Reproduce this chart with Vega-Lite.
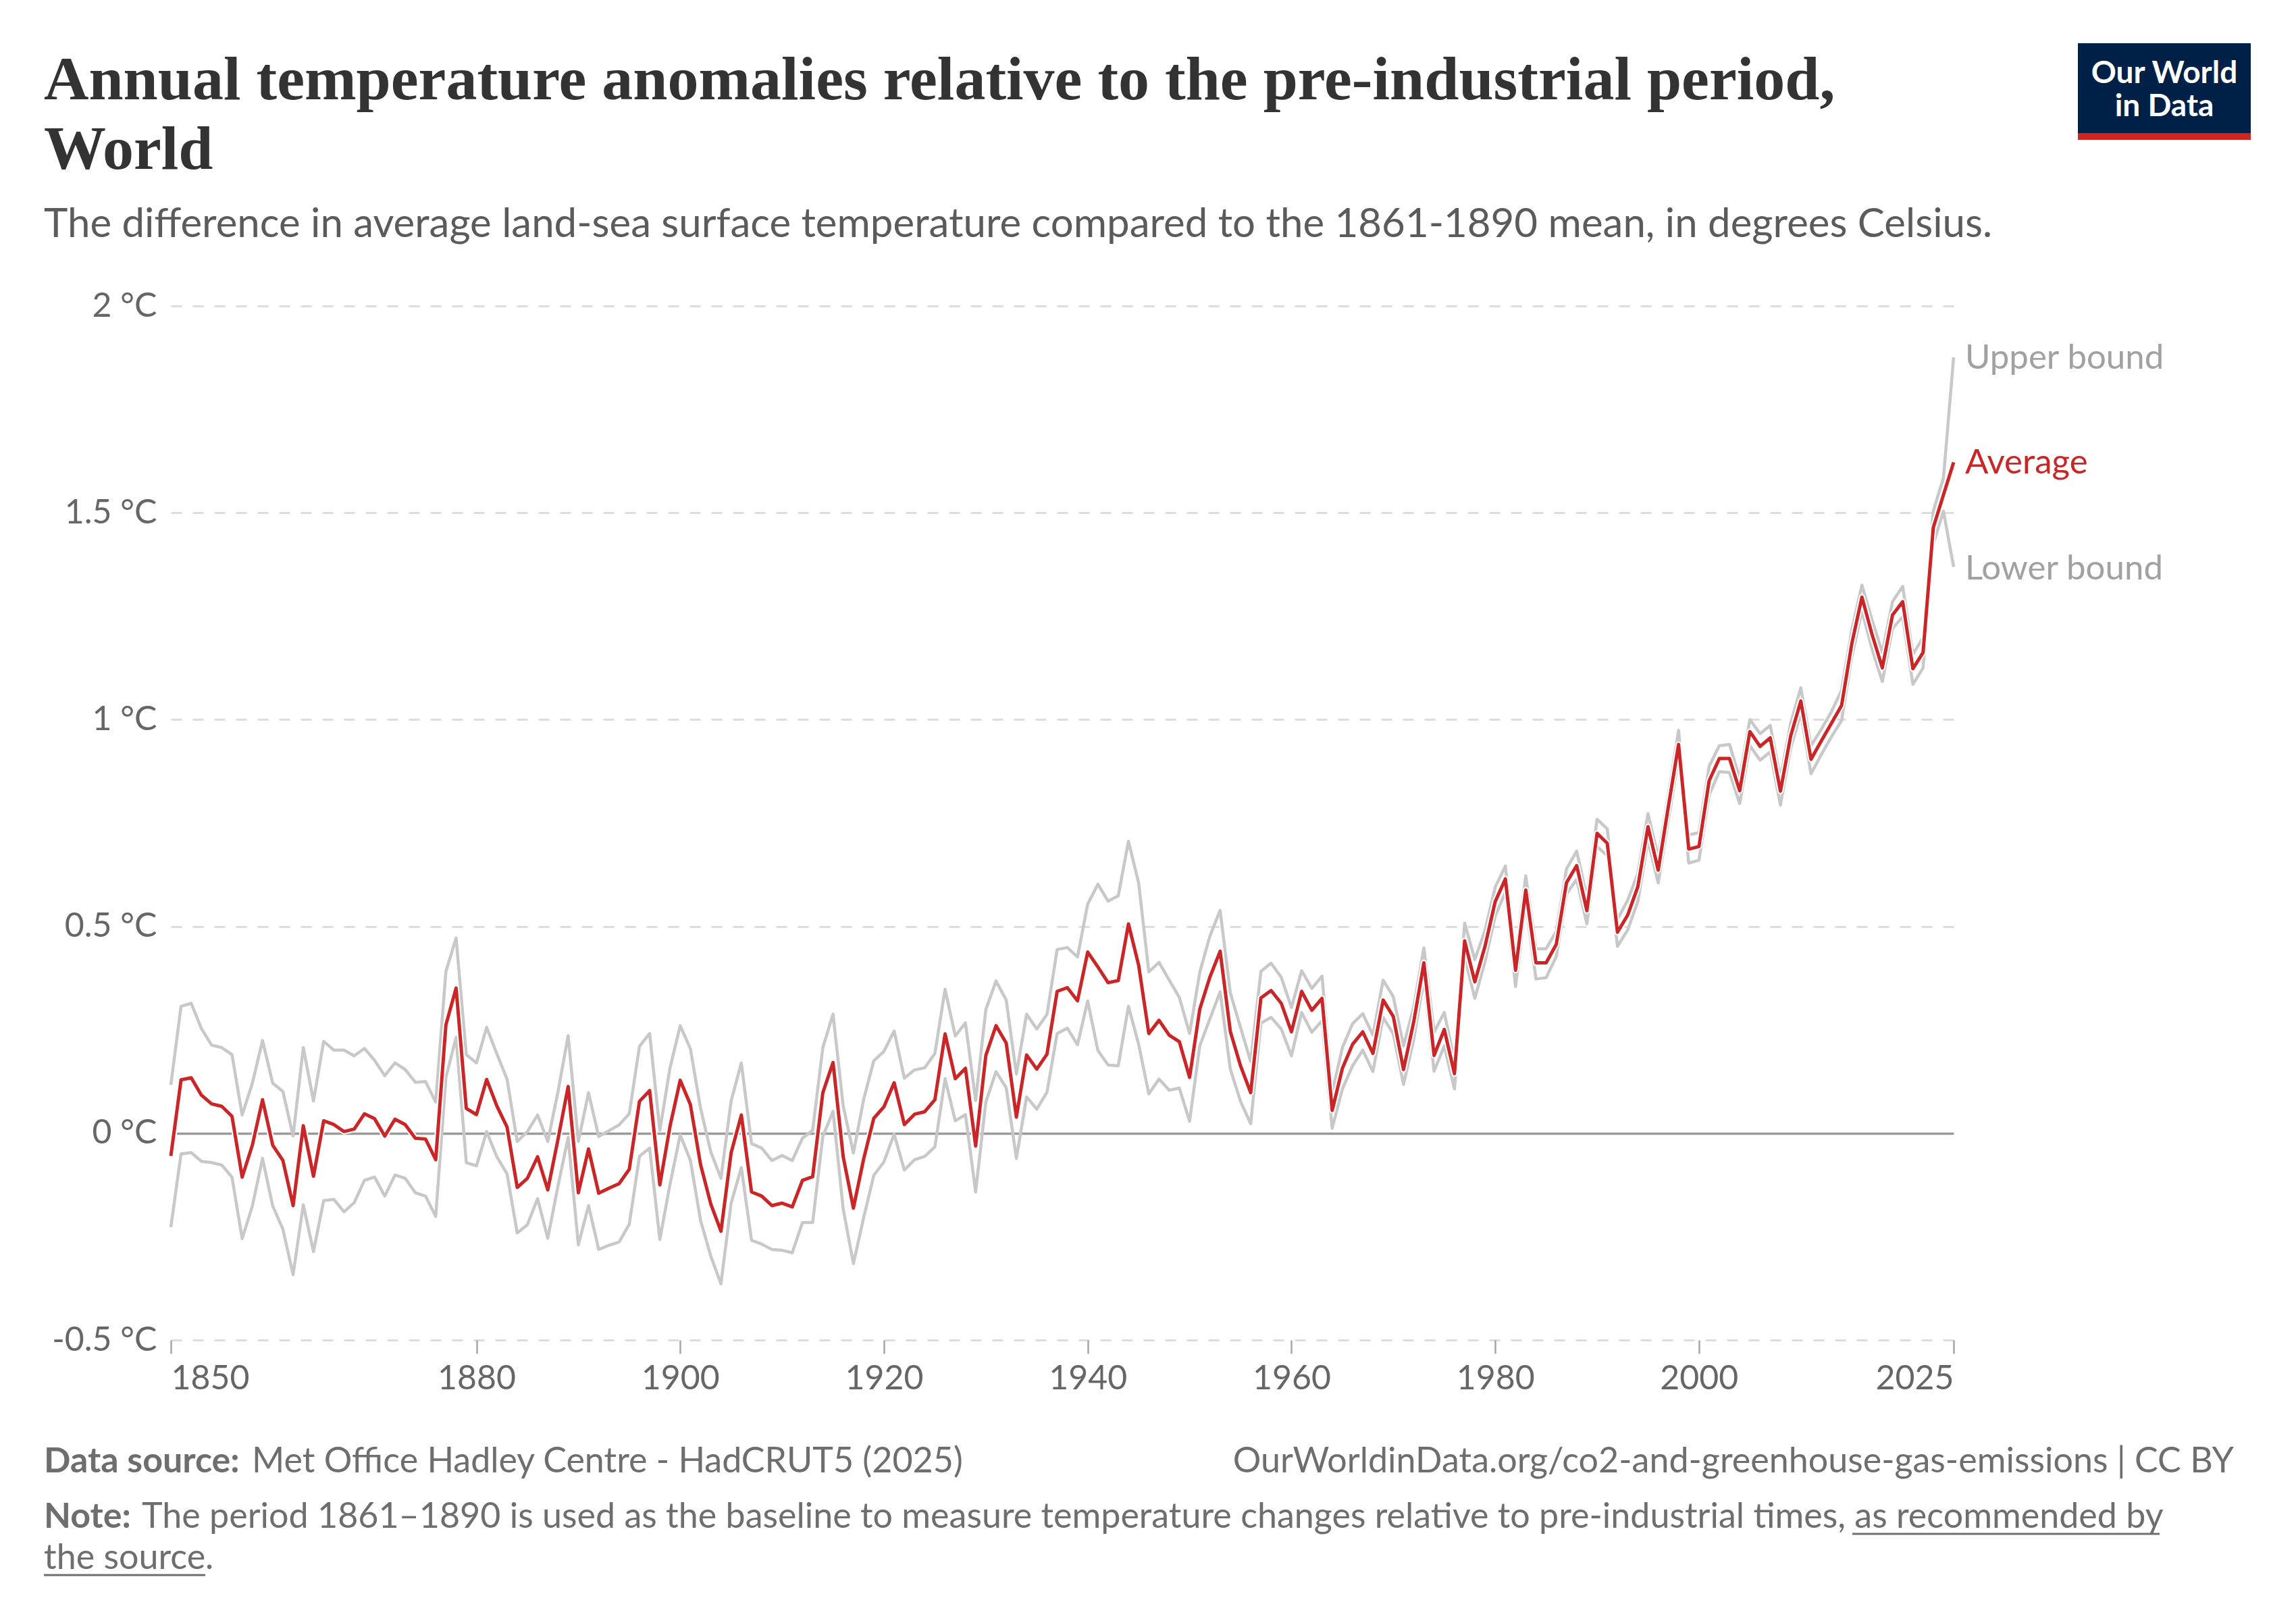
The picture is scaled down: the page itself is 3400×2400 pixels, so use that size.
{
  "$schema": "https://vega.github.io/schema/vega-lite/v6.json",
  "width": 2640,
  "height": 1531,
  "autosize": {"type": "none"},
  "padding": {"left": 253, "top": 453, "right": 507, "bottom": 416},
  "background": "#ffffff",
  "config": {"view": {"stroke": null}, "font": "Lato"},
  "data": {"values": [
    {"year":1850,"upper":0.117,"avg":-0.055,"lower":-0.227},
    {"year":1851,"upper":0.307,"avg":0.129,"lower":-0.050},
    {"year":1852,"upper":0.314,"avg":0.134,"lower":-0.047},
    {"year":1853,"upper":0.253,"avg":0.092,"lower":-0.068},
    {"year":1854,"upper":0.213,"avg":0.071,"lower":-0.071},
    {"year":1855,"upper":0.207,"avg":0.065,"lower":-0.077},
    {"year":1856,"upper":0.190,"avg":0.041,"lower":-0.106},
    {"year":1857,"upper":0.044,"avg":-0.106,"lower":-0.255},
    {"year":1858,"upper":0.121,"avg":-0.029,"lower":-0.176},
    {"year":1859,"upper":0.224,"avg":0.081,"lower":-0.061},
    {"year":1860,"upper":0.121,"avg":-0.029,"lower":-0.176},
    {"year":1861,"upper":0.101,"avg":-0.066,"lower":-0.232},
    {"year":1862,"upper":-0.007,"avg":-0.175,"lower":-0.342},
    {"year":1863,"upper":0.207,"avg":0.018,"lower":-0.173},
    {"year":1864,"upper":0.078,"avg":-0.104,"lower":-0.286},
    {"year":1865,"upper":0.222,"avg":0.030,"lower":-0.163},
    {"year":1866,"upper":0.201,"avg":0.021,"lower":-0.160},
    {"year":1867,"upper":0.201,"avg":0.004,"lower":-0.190},
    {"year":1868,"upper":0.187,"avg":0.010,"lower":-0.168},
    {"year":1869,"upper":0.205,"avg":0.047,"lower":-0.114},
    {"year":1870,"upper":0.176,"avg":0.035,"lower":-0.106},
    {"year":1871,"upper":0.139,"avg":-0.007,"lower":-0.152},
    {"year":1872,"upper":0.170,"avg":0.034,"lower":-0.101},
    {"year":1873,"upper":0.154,"avg":0.021,"lower":-0.109},
    {"year":1874,"upper":0.123,"avg":-0.012,"lower":-0.144},
    {"year":1875,"upper":0.125,"avg":-0.014,"lower":-0.152},
    {"year":1876,"upper":0.075,"avg":-0.064,"lower":-0.201},
    {"year":1877,"upper":0.391,"avg":0.262,"lower":0.135},
    {"year":1878,"upper":0.472,"avg":0.351,"lower":0.232},
    {"year":1879,"upper":0.190,"avg":0.060,"lower":-0.071},
    {"year":1880,"upper":0.170,"avg":0.045,"lower":-0.079},
    {"year":1881,"upper":0.256,"avg":0.130,"lower":0.004},
    {"year":1882,"upper":0.192,"avg":0.066,"lower":-0.057},
    {"year":1883,"upper":0.131,"avg":0.015,"lower":-0.098},
    {"year":1884,"upper":-0.020,"avg":-0.131,"lower":-0.241},
    {"year":1885,"upper":0.004,"avg":-0.109,"lower":-0.221},
    {"year":1886,"upper":0.044,"avg":-0.057,"lower":-0.158},
    {"year":1887,"upper":-0.020,"avg":-0.137,"lower":-0.254},
    {"year":1888,"upper":0.100,"avg":-0.015,"lower":-0.128},
    {"year":1889,"upper":0.236,"avg":0.113,"lower":-0.010},
    {"year":1890,"upper":-0.020,"avg":-0.144,"lower":-0.270},
    {"year":1891,"upper":0.098,"avg":-0.038,"lower":-0.175},
    {"year":1892,"upper":-0.008,"avg":-0.145,"lower":-0.281},
    {"year":1893,"upper":0.006,"avg":-0.133,"lower":-0.271},
    {"year":1894,"upper":0.020,"avg":-0.122,"lower":-0.263},
    {"year":1895,"upper":0.047,"avg":-0.087,"lower":-0.220},
    {"year":1896,"upper":0.210,"avg":0.077,"lower":-0.056},
    {"year":1897,"upper":0.241,"avg":0.103,"lower":-0.036},
    {"year":1898,"upper":0.007,"avg":-0.125,"lower":-0.257},
    {"year":1899,"upper":0.158,"avg":0.017,"lower":-0.123},
    {"year":1900,"upper":0.260,"avg":0.128,"lower":-0.004},
    {"year":1901,"upper":0.204,"avg":0.069,"lower":-0.066},
    {"year":1902,"upper":0.060,"avg":-0.076,"lower":-0.211},
    {"year":1903,"upper":-0.045,"avg":-0.171,"lower":-0.297},
    {"year":1904,"upper":-0.109,"avg":-0.237,"lower":-0.364},
    {"year":1905,"upper":0.078,"avg":-0.047,"lower":-0.169},
    {"year":1906,"upper":0.170,"avg":0.044,"lower":-0.083},
    {"year":1907,"upper":-0.025,"avg":-0.142,"lower":-0.259},
    {"year":1908,"upper":-0.036,"avg":-0.152,"lower":-0.268},
    {"year":1909,"upper":-0.066,"avg":-0.175,"lower":-0.281},
    {"year":1910,"upper":-0.054,"avg":-0.169,"lower":-0.283},
    {"year":1911,"upper":-0.066,"avg":-0.178,"lower":-0.289},
    {"year":1912,"upper":-0.012,"avg":-0.114,"lower":-0.216},
    {"year":1913,"upper":0.007,"avg":-0.105,"lower":-0.216},
    {"year":1914,"upper":0.207,"avg":0.098,"lower":-0.008},
    {"year":1915,"upper":0.288,"avg":0.171,"lower":0.053},
    {"year":1916,"upper":0.066,"avg":-0.057,"lower":-0.183},
    {"year":1917,"upper":-0.048,"avg":-0.181,"lower":-0.315},
    {"year":1918,"upper":0.081,"avg":-0.063,"lower":-0.205},
    {"year":1919,"upper":0.175,"avg":0.036,"lower":-0.102},
    {"year":1920,"upper":0.198,"avg":0.064,"lower":-0.069},
    {"year":1921,"upper":0.247,"avg":0.122,"lower":-0.002},
    {"year":1922,"upper":0.133,"avg":0.021,"lower":-0.089},
    {"year":1923,"upper":0.153,"avg":0.046,"lower":-0.064},
    {"year":1924,"upper":0.158,"avg":0.052,"lower":-0.056},
    {"year":1925,"upper":0.193,"avg":0.081,"lower":-0.033},
    {"year":1926,"upper":0.348,"avg":0.240,"lower":0.132},
    {"year":1927,"upper":0.235,"avg":0.132,"lower":0.030},
    {"year":1928,"upper":0.267,"avg":0.157,"lower":0.045},
    {"year":1929,"upper":0.079,"avg":-0.031,"lower":-0.142},
    {"year":1930,"upper":0.299,"avg":0.188,"lower":0.075},
    {"year":1931,"upper":0.368,"avg":0.260,"lower":0.149},
    {"year":1932,"upper":0.322,"avg":0.218,"lower":0.110},
    {"year":1933,"upper":0.143,"avg":0.039,"lower":-0.061},
    {"year":1934,"upper":0.288,"avg":0.189,"lower":0.088},
    {"year":1935,"upper":0.252,"avg":0.155,"lower":0.058},
    {"year":1936,"upper":0.287,"avg":0.191,"lower":0.099},
    {"year":1937,"upper":0.444,"avg":0.343,"lower":0.241},
    {"year":1938,"upper":0.449,"avg":0.352,"lower":0.254},
    {"year":1939,"upper":0.426,"avg":0.320,"lower":0.214},
    {"year":1940,"upper":0.554,"avg":0.438,"lower":0.320},
    {"year":1941,"upper":0.602,"avg":0.402,"lower":0.200},
    {"year":1942,"upper":0.561,"avg":0.364,"lower":0.165},
    {"year":1943,"upper":0.574,"avg":0.369,"lower":0.163},
    {"year":1944,"upper":0.706,"avg":0.506,"lower":0.307},
    {"year":1945,"upper":0.605,"avg":0.406,"lower":0.215},
    {"year":1946,"upper":0.390,"avg":0.241,"lower":0.095},
    {"year":1947,"upper":0.413,"avg":0.273,"lower":0.131},
    {"year":1948,"upper":0.370,"avg":0.237,"lower":0.104},
    {"year":1949,"upper":0.328,"avg":0.221,"lower":0.109},
    {"year":1950,"upper":0.241,"avg":0.135,"lower":0.029},
    {"year":1951,"upper":0.389,"avg":0.300,"lower":0.211},
    {"year":1952,"upper":0.477,"avg":0.378,"lower":0.277},
    {"year":1953,"upper":0.539,"avg":0.440,"lower":0.342},
    {"year":1954,"upper":0.339,"avg":0.246,"lower":0.155},
    {"year":1955,"upper":0.256,"avg":0.163,"lower":0.077},
    {"year":1956,"upper":0.173,"avg":0.098,"lower":0.023},
    {"year":1957,"upper":0.391,"avg":0.327,"lower":0.266},
    {"year":1958,"upper":0.411,"avg":0.345,"lower":0.280},
    {"year":1959,"upper":0.377,"avg":0.314,"lower":0.252},
    {"year":1960,"upper":0.304,"avg":0.245,"lower":0.187},
    {"year":1961,"upper":0.393,"avg":0.343,"lower":0.292},
    {"year":1962,"upper":0.350,"avg":0.297,"lower":0.244},
    {"year":1963,"upper":0.380,"avg":0.326,"lower":0.272},
    {"year":1964,"upper":0.098,"avg":0.055,"lower":0.012},
    {"year":1965,"upper":0.207,"avg":0.157,"lower":0.107},
    {"year":1966,"upper":0.265,"avg":0.215,"lower":0.163},
    {"year":1967,"upper":0.289,"avg":0.245,"lower":0.201},
    {"year":1968,"upper":0.237,"avg":0.193,"lower":0.149},
    {"year":1969,"upper":0.370,"avg":0.322,"lower":0.280},
    {"year":1970,"upper":0.330,"avg":0.282,"lower":0.240},
    {"year":1971,"upper":0.211,"avg":0.154,"lower":0.118},
    {"year":1972,"upper":0.305,"avg":0.269,"lower":0.226},
    {"year":1973,"upper":0.448,"avg":0.412,"lower":0.373},
    {"year":1974,"upper":0.244,"avg":0.188,"lower":0.150},
    {"year":1975,"upper":0.292,"avg":0.251,"lower":0.211},
    {"year":1976,"upper":0.175,"avg":0.144,"lower":0.107},
    {"year":1977,"upper":0.508,"avg":0.465,"lower":0.427},
    {"year":1978,"upper":0.420,"avg":0.366,"lower":0.326},
    {"year":1979,"upper":0.490,"avg":0.452,"lower":0.415},
    {"year":1980,"upper":0.595,"avg":0.560,"lower":0.525},
    {"year":1981,"upper":0.646,"avg":0.615,"lower":0.583},
    {"year":1982,"upper":0.427,"avg":0.394,"lower":0.355},
    {"year":1983,"upper":0.622,"avg":0.588,"lower":0.556},
    {"year":1984,"upper":0.446,"avg":0.412,"lower":0.373},
    {"year":1985,"upper":0.446,"avg":0.412,"lower":0.376},
    {"year":1986,"upper":0.488,"avg":0.457,"lower":0.427},
    {"year":1987,"upper":0.639,"avg":0.606,"lower":0.578},
    {"year":1988,"upper":0.682,"avg":0.647,"lower":0.614},
    {"year":1989,"upper":0.570,"avg":0.538,"lower":0.506},
    {"year":1990,"upper":0.759,"avg":0.725,"lower":0.693},
    {"year":1991,"upper":0.736,"avg":0.701,"lower":0.671},
    {"year":1992,"upper":0.517,"avg":0.486,"lower":0.452},
    {"year":1993,"upper":0.563,"avg":0.527,"lower":0.491},
    {"year":1994,"upper":0.628,"avg":0.596,"lower":0.560},
    {"year":1995,"upper":0.773,"avg":0.741,"lower":0.708},
    {"year":1996,"upper":0.667,"avg":0.636,"lower":0.605},
    {"year":1997,"upper":0.818,"avg":0.790,"lower":0.757},
    {"year":1998,"upper":0.974,"avg":0.940,"lower":0.908},
    {"year":1999,"upper":0.721,"avg":0.687,"lower":0.653},
    {"year":2000,"upper":0.727,"avg":0.693,"lower":0.660},
    {"year":2001,"upper":0.887,"avg":0.852,"lower":0.818},
    {"year":2002,"upper":0.937,"avg":0.906,"lower":0.874},
    {"year":2003,"upper":0.940,"avg":0.906,"lower":0.872},
    {"year":2004,"upper":0.858,"avg":0.828,"lower":0.797},
    {"year":2005,"upper":1.000,"avg":0.971,"lower":0.937},
    {"year":2006,"upper":0.966,"avg":0.935,"lower":0.902},
    {"year":2007,"upper":0.986,"avg":0.956,"lower":0.922},
    {"year":2008,"upper":0.858,"avg":0.827,"lower":0.793},
    {"year":2009,"upper":0.991,"avg":0.960,"lower":0.930},
    {"year":2010,"upper":1.077,"avg":1.045,"lower":1.016},
    {"year":2011,"upper":0.937,"avg":0.904,"lower":0.869},
    {"year":2012,"upper":0.976,"avg":0.948,"lower":0.915},
    {"year":2013,"upper":1.019,"avg":0.991,"lower":0.958},
    {"year":2014,"upper":1.071,"avg":1.034,"lower":0.998},
    {"year":2015,"upper":1.216,"avg":1.183,"lower":1.151},
    {"year":2016,"upper":1.325,"avg":1.296,"lower":1.263},
    {"year":2017,"upper":1.240,"avg":1.205,"lower":1.170},
    {"year":2018,"upper":1.162,"avg":1.125,"lower":1.092},
    {"year":2019,"upper":1.285,"avg":1.253,"lower":1.220},
    {"year":2020,"upper":1.322,"avg":1.285,"lower":1.249},
    {"year":2021,"upper":1.158,"avg":1.123,"lower":1.085},
    {"year":2022,"upper":1.198,"avg":1.162,"lower":1.125},
    {"year":2023,"upper":1.504,"avg":1.464,"lower":1.424},
    {"year":2024,"upper":1.584,"avg":1.543,"lower":1.504},
    {"year":2025,"upper":1.876,"avg":1.622,"lower":1.369}
  ]},
  "layer": [
    {
      "transform": [{"fold": ["upper", "avg", "lower"], "as": ["series", "value"]}],
      "encoding": {
        "x": {
          "field": "year", "type": "quantitative",
          "scale": {"domain": [1850, 2025], "nice": false, "zero": false},
          "axis": {
            "values": [1850, 1880, 1900, 1920, 1940, 1960, 1980, 2000, 2025],
            "format": "d", "title": null, "grid": false, "domain": false,
            "ticks": true, "tickSize": 20, "tickColor": "#a6a6a6", "tickWidth": 2.5,
            "labelFont": "Lato", "labelFontSize": 50, "labelColor": "#666666",
            "labelPadding": 12, "labelFlush": true, "labelOverlap": false
          }
        },
        "y": {
          "field": "value", "type": "quantitative",
          "scale": {"domain": [-0.5, 2], "nice": false, "zero": false},
          "axis": {
            "values": [-0.5, 0, 0.5, 1, 1.5, 2],
            "labelExpr": "datum.value + ' °C'",
            "title": null, "domain": false, "ticks": false, "tickSize": 0,
            "labelFont": "Lato", "labelFontSize": 50, "labelColor": "#666666",
            "labelPadding": 21, "labelFlush": false, "labelOverlap": false,
            "grid": true,
            "gridColor": {"condition": {"test": "datum.value === 0", "value": "#9a9a9a"}, "value": "#dddddd"},
            "gridDash": {"condition": {"test": "datum.value === 0", "value": []}, "value": [16, 16]},
            "gridWidth": {"condition": {"test": "datum.value === 0", "value": 3.5}, "value": 3}
          }
        }
      },
      "layer": [
        {"transform": [{"filter": "datum.series === 'upper'"}],
         "mark": {"type": "line", "color": "#c8c8c8", "strokeWidth": 4.5, "strokeJoin": "round"}},
        {"transform": [{"filter": "datum.series === 'lower'"}],
         "mark": {"type": "line", "color": "#c8c8c8", "strokeWidth": 4.5, "strokeJoin": "round"}},
        {"transform": [{"filter": "datum.series === 'avg'"}],
         "mark": {"type": "line", "color": "#ffffff", "strokeWidth": 9, "strokeJoin": "round"}},
        {"transform": [{"filter": "datum.series === 'avg'"}],
         "mark": {"type": "line", "color": "#ca2628", "strokeWidth": 5, "strokeJoin": "round"}},
        {"transform": [{"filter": "datum.series === 'upper' && datum.year === 2025"}],
         "mark": {"type": "text", "text": "Upper bound", "align": "left", "baseline": "middle", "dx": 17, "dy": 2, "font": "Lato", "fontSize": 51, "color": "#a1a1a1"}},
        {"transform": [{"filter": "datum.series === 'avg' && datum.year === 2025"}],
         "mark": {"type": "text", "text": "Average", "align": "left", "baseline": "middle", "dx": 17, "dy": 2, "font": "Lato", "fontSize": 51, "color": "#ca2628"}},
        {"transform": [{"filter": "datum.series === 'lower' && datum.year === 2025"}],
         "mark": {"type": "text", "text": "Lower bound", "align": "left", "baseline": "middle", "dx": 17, "dy": 4, "font": "Lato", "fontSize": 51, "color": "#a1a1a1"}}
      ]
    },
    {"data": {"values": [{}]},
     "mark": {"type": "text", "text": ["Annual temperature anomalies relative to the pre-industrial period,", "World"], "lineHeight": 103, "x": -188, "y": -306, "align": "left", "baseline": "alphabetic", "font": "Liberation Serif", "fontSize": 92, "fontWeight": "bold", "color": "#333333"}},
    {"data": {"values": [{}]},
     "mark": {"type": "text", "text": "The difference in average land-sea surface temperature compared to the 1861-1890 mean, in degrees Celsius.", "x": -188, "y": -102, "align": "left", "baseline": "alphabetic", "font": "Lato", "fontSize": 60, "color": "#5b5b5b"}},
    {"data": {"values": [{}]},
     "mark": {"type": "rect", "x": 2824, "x2": 3080, "y": -389, "y2": -256, "fill": "#002147"}},
    {"data": {"values": [{}]},
     "mark": {"type": "rect", "x": 2824, "x2": 3080, "y": -256, "y2": -246, "fill": "#ce261e"}},
    {"data": {"values": [{}]},
     "mark": {"type": "text", "text": ["Our World", "in Data"], "lineHeight": 49, "x": 2952, "y": -330, "align": "center", "baseline": "alphabetic", "font": "Lato", "fontSize": 46, "fontWeight": "bold", "color": "#ffffff"}},
    {"data": {"values": [{}]},
     "mark": {"type": "text", "text": "Data source:", "x": -188, "y": 1727, "align": "left", "baseline": "alphabetic", "font": "Lato", "fontSize": 52, "fontWeight": "bold", "color": "#6e6e6e"}},
    {"data": {"values": [{}]},
     "mark": {"type": "text", "text": "Met Office Hadley Centre - HadCRUT5 (2025)", "x": 120, "y": 1727, "align": "left", "baseline": "alphabetic", "font": "Lato", "fontSize": 52, "color": "#6e6e6e"}},
    {"data": {"values": [{}]},
     "mark": {"type": "text", "text": "OurWorldinData.org/co2-and-greenhouse-gas-emissions | CC BY", "x": 3055, "y": 1727, "align": "right", "baseline": "alphabetic", "font": "Lato", "fontSize": 52, "color": "#6e6e6e"}},
    {"data": {"values": [{}]},
     "mark": {"type": "text", "text": "Note:", "x": -188, "y": 1809, "align": "left", "baseline": "alphabetic", "font": "Lato", "fontSize": 52, "fontWeight": "bold", "color": "#6e6e6e"}},
    {"data": {"values": [{}]},
     "mark": {"type": "text", "text": "The period 1861–1890 is used as the baseline to measure temperature changes relative to pre-industrial times, as recommended by", "x": -43, "y": 1809, "align": "left", "baseline": "alphabetic", "font": "Lato", "fontSize": 52, "color": "#6e6e6e"}},
    {"data": {"values": [{}]},
     "mark": {"type": "text", "text": "the source.", "x": -188, "y": 1870, "align": "left", "baseline": "alphabetic", "font": "Lato", "fontSize": 52, "color": "#6e6e6e"}},
    {"data": {"values": [{}]},
     "mark": {"type": "rule", "color": "#6e6e6e", "strokeWidth": 3},
     "encoding": {"x": {"value": 2490}, "x2": {"value": 2945}, "y": {"value": 1818}, "y2": {"value": 1818}}},
    {"data": {"values": [{}]},
     "mark": {"type": "rule", "color": "#6e6e6e", "strokeWidth": 3},
     "encoding": {"x": {"value": -188}, "x2": {"value": 51}, "y": {"value": 1879}, "y2": {"value": 1879}}}
  ]
}
